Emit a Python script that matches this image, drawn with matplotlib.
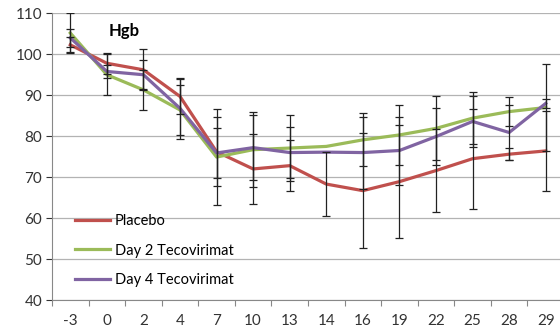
import numpy as np
import matplotlib
matplotlib.use('Agg')
import matplotlib.pyplot as plt

# Days of study (categorical axis)
dias = ['-3', '0', '2', '4', '7', '10', '13', '14', '16', '19', '22', '25', '28', '29']

# Hgb means per group
placebo = [102.3, 97.8, 96.2, 89.7, 76.2, 72.0, 72.8, 68.3, 66.7, 68.9, 71.6, 74.5, 75.6, 76.4]
dia2 = [105.2, 95.0, 91.3, 86.4, 74.9, 76.7, 77.1, 77.5, 79.1, 80.3, 81.9, 84.4, 86.0, 87.0]
dia4 = [104.0, 95.8, 95.0, 86.8, 75.9, 77.2, 76.0, 76.1, 76.0, 76.5, 79.9, 83.6, 80.9, 88.0]

# Error bar half-widths (nan = no bar)
err_placebo = [1.8, 2.6, 5.0, 4.3, 8.4, 8.6, 6.2, 7.8, 14.0, 13.8, 10.2, 12.2, 1.5, 9.7]
err_dia2 = [4.9, 5.0, 4.9, 6.1, 11.8, 9.1, 8.0, np.nan, 6.5, 7.3, 7.8, 6.3, 3.5, 10.5]
err_dia4 = [2.2, 1.5, 3.6, 7.5, 6.2, 8.0, 6.3, np.nan, 8.8, 8.3, 6.9, 6.2, 6.7, 1.1]

series = [
    ('Placebo', placebo, err_placebo, '#C0504D'),
    ('Day 2 Tecovirimat', dia2, err_dia2, '#9BBB59'),
    ('Day 4 Tecovirimat', dia4, err_dia4, '#8064A2'),
]

plt.rcParams['font.family'] = ['Lato', 'DejaVu Sans']

fig = plt.figure(figsize=(5.6, 3.33), dpi=100)
ax = fig.add_axes([52 / 560, 1 - 300 / 333, 512 / 560, (300 - 13.3) / 333])

x = np.arange(len(dias))
for nombre, vals, errs, color in series:
    ax.plot(x, vals, color=color, linewidth=2.3, label=nombre, zorder=3,
            solid_joinstyle='round')
    ax.errorbar(x, vals, yerr=errs, fmt='none', ecolor='#222222',
                elinewidth=0.9, capsize=2.8, capthick=0.9, zorder=4)

ax.set_ylim(40, 110)
ax.set_yticks(range(40, 111, 10))
ax.set_xlim(-0.5, len(dias) - 0.5)
ax.set_xticks(x)
ax.set_xticklabels(dias)
ax.set_xticks(np.arange(-0.5, len(dias), 1), minor=True)
ax.tick_params(axis='x', which='major', length=0, pad=10, labelsize=11, colors='#333333')
ax.tick_params(axis='x', which='minor', length=4, color='#888888', width=0.8)
ax.tick_params(axis='y', length=4, color='#888888', width=0.8, labelsize=11,
               pad=3)
ax.tick_params(axis='y', colors='#333333')

ax.grid(axis='y', color='#b3b3b3', linewidth=0.9, zorder=0)
for lado in ['top', 'right']:
    ax.spines[lado].set_visible(False)
for lado in ['left', 'bottom']:
    ax.spines[lado].set_color('#888888')
    ax.spines[lado].set_linewidth(0.8)

ax.text(0.14, 0.937, 'Hgb', transform=ax.transAxes, fontsize=12,
        fontweight='bold', ha='center', va='center')

ax.legend(loc='lower left', bbox_to_anchor=(0.02, 0.0), frameon=False,
          fontsize=10.5, handlelength=2.4, handletextpad=0.3, labelspacing=1.05)

fig.savefig('out.png', dpi=100)
